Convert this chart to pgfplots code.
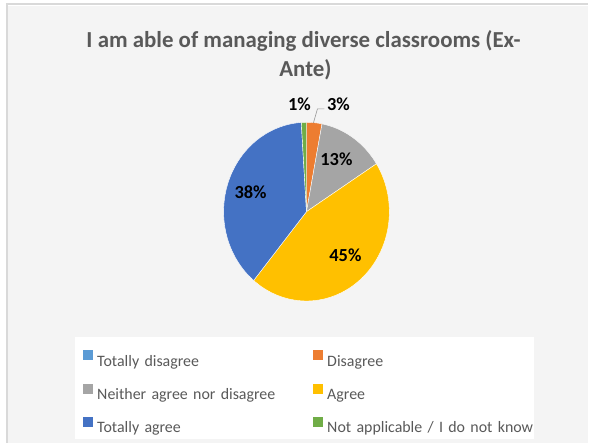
\documentclass[border=0pt]{standalone}
\usepackage{pgfplots}
\usepackage{pgfplotstable}
\pgfplotsset{compat=1.18}
\usepackage{fontspec}
\setmainfont{Carlito}
\definecolor{cTD}{HTML}{5B9BD5}
\definecolor{cD}{HTML}{ED7D31}
\definecolor{cN}{HTML}{A5A5A5}
\definecolor{cA}{HTML}{FFC000}
\definecolor{cTA}{HTML}{4472C4}
\definecolor{cNA}{HTML}{70AD47}
\definecolor{txt}{HTML}{595959}
\definecolor{bg}{HTML}{F4F4F4}
\definecolor{frame}{HTML}{D9D9D9}

\pgfplotstableread{
idx value
0 0
1 3
2 13
3 45
4 38
5 1
}\piedata

\pgfplotstablegetelem{0}{value}\of\piedata \let\vA\pgfplotsretval
\pgfplotstablegetelem{1}{value}\of\piedata \let\vB\pgfplotsretval
\pgfplotstablegetelem{2}{value}\of\piedata \let\vC\pgfplotsretval
\pgfplotstablegetelem{3}{value}\of\piedata \let\vD\pgfplotsretval
\pgfplotstablegetelem{4}{value}\of\piedata \let\vE\pgfplotsretval
\pgfplotstablegetelem{5}{value}\of\piedata \let\vF\pgfplotsretval
\pgfmathsetmacro\aA{90}
\pgfmathsetmacro\aB{\aA-3.6*\vA}
\pgfmathsetmacro\aC{\aB-3.6*\vB}
\pgfmathsetmacro\aD{\aC-3.6*\vC}
\pgfmathsetmacro\aE{\aD-3.6*\vD}
\pgfmathsetmacro\aF{\aE-3.6*\vE}
\pgfmathsetmacro\aG{\aF-3.6*\vF}

\def\cx{307}
\def\cy{212}
\def\rx{83}
\def\ry{89.5}

\begin{document}
\begin{tikzpicture}
\begin{axis}[
  width=589bp, height=444bp, scale only axis,
  xmin=0, xmax=589, ymin=0, ymax=444, y dir=reverse,
  hide axis, clip=false,
  legend columns=2,
  legend cell align=left,
  legend image code/.code={\fill[#1] (0bp,2.5bp) rectangle (9bp,11.5bp);},
  legend style={
    at={(axis cs:83,351)}, anchor=north west,
    draw=none, fill=none, inner sep=0pt, outer sep=0pt,
    font=\fontsize{16}{19}\selectfont, text=txt,
    row sep=14bp,
    nodes={text width=216bp, text height=12bp, text depth=3bp, inner xsep=0pt, inner ysep=0pt, align=left},
    /tikz/every odd column/.append style={column sep=5bp},
    /tikz/every even column/.append style={column sep=0bp},
  },
]
% background
\fill[white] (axis cs:0,0) rectangle (axis cs:589,444);
\fill[bg] (axis cs:8,6) rectangle (axis cs:589,444);
\draw[frame, line width=2bp] (axis cs:6,4.5) -- (axis cs:589,4.5);
\draw[frame, line width=2bp] (axis cs:7,3.5) -- (axis cs:7,444);
\fill[white] (axis cs:75,338) rectangle (axis cs:535,440);

% pie slices
\addplot[forget plot, fill=cD, draw=white, line width=0.4bp, domain=\aC:\aB, samples=20, variable=\t]
  ({\cx+\rx*cos(\t)},{\cy-\ry*sin(\t)}) -- (axis cs:\cx,\cy) -- cycle;
\addplot[forget plot, fill=cN, draw=white, line width=0.4bp, domain=\aD:\aC, samples=40, variable=\t]
  ({\cx+\rx*cos(\t)},{\cy-\ry*sin(\t)}) -- (axis cs:\cx,\cy) -- cycle;
\addplot[forget plot, fill=cA, draw=white, line width=0.4bp, domain=\aE:\aD, samples=100, variable=\t]
  ({\cx+\rx*cos(\t)},{\cy-\ry*sin(\t)}) -- (axis cs:\cx,\cy) -- cycle;
\addplot[forget plot, fill=cTA, draw=white, line width=0.4bp, domain=\aF:\aE, samples=100, variable=\t]
  ({\cx+\rx*cos(\t)},{\cy-\ry*sin(\t)}) -- (axis cs:\cx,\cy) -- cycle;
\addplot[forget plot, fill=cNA, draw=white, line width=0.4bp, domain=\aG:\aF, samples=10, variable=\t]
  ({\cx+\rx*cos(\t)},{\cy-\ry*sin(\t)}) -- (axis cs:\cx,\cy) -- cycle;

% leader line
\draw[gray!80, line width=0.6bp] (axis cs:314,123) -- (axis cs:318,109) -- (axis cs:325,109);

% data labels
\begin{scope}[font=\fontsize{18.5}{20}\selectfont\bfseries]
\node[anchor=center] at (axis cs:300,104) {1\%};
\node[anchor=center] at (axis cs:339,104) {3\%};
\node[anchor=center] at (axis cs:337,160) {13\%};
\node[anchor=center] at (axis cs:346,256) {45\%};
\node[anchor=center] at (axis cs:251,193) {38\%};
\end{scope}

% title
\node[anchor=base, text=txt, font=\fontsize{23}{26}\selectfont\bfseries] at (axis cs:304,48) {I am able of managing diverse classrooms (Ex-};
\node[anchor=base, text=txt, font=\fontsize{23}{26}\selectfont\bfseries] at (axis cs:306,77) {Ante)};

% legend
\addlegendimage{cTD}
\addlegendimage{cD}
\addlegendimage{cN}
\addlegendimage{cA}
\addlegendimage{cTA}
\addlegendimage{cNA}
\legend{Totally disagree, Disagree, Neither agree nor disagree, Agree, Totally agree, Not applicable / I do not know}
\end{axis}
\end{tikzpicture}
\end{document}
